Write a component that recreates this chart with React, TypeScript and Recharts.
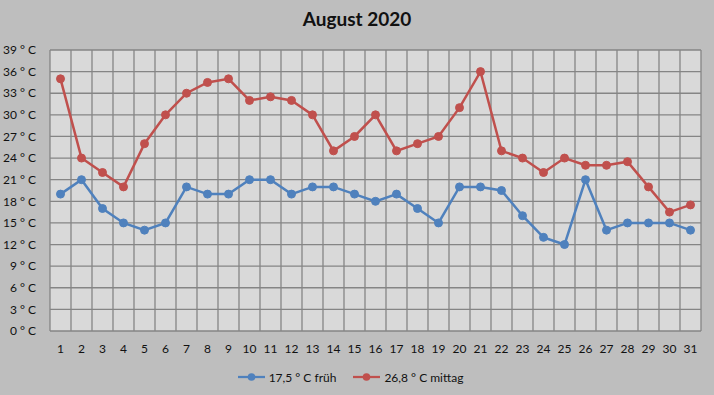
import { LineChart, Line, XAxis, YAxis, CartesianGrid, Legend } from 'recharts';

const days = [
  1, 2, 3, 4, 5, 6, 7, 8, 9, 10, 11, 12, 13, 14, 15, 16,
  17, 18, 19, 20, 21, 22, 23, 24, 25, 26, 27, 28, 29, 30, 31,
];

const frueh = [
  19, 21, 17, 15, 14, 15, 20, 19, 19, 21, 21, 19, 20, 20, 19, 18,
  19, 17, 15, 20, 20, 19.5, 16, 13, 12, 21, 14, 15, 15, 15, 14,
];

const mittag = [
  35, 24, 22, 20, 26, 30, 33, 34.5, 35, 32, 32.5, 32, 30, 25, 27, 30,
  25, 26, 27, 31, 36, 25, 24, 22, 24, 23, 23, 23.5, 20, 16.5, 17.5,
];

const yTicks = [0, 3, 6, 9, 12, 15, 18, 21, 24, 27, 30, 33, 36, 39];

const seriesNames = ['17,5 ° C früh', '26,8 ° C mittag'];
const seriesColors = ['#4F81BD', '#C0504D'];

const data = days.map((d, i) => ({ day: d, frueh: frueh[i], mittag: mittag[i] }));

const FONT = 'Lato, "Liberation Sans", sans-serif';

// Gitternetz an den Kategoriegrenzen wie in Excel
const boundaryLines = ({ offset }: any) => {
  const out: number[] = [];
  for (let i = 0; i <= days.length; i++) {
    out.push(offset.left + (i * offset.width) / days.length);
  }
  return out;
};

const LegendContent = () => (
  <div style={{ height: 32, display: 'flex', justifyContent: 'center', alignItems: 'center', gap: 17, fontFamily: FONT, fontSize: 12, color: '#111' }}>
    {seriesNames.map((name, i) => (
      <div key={name} style={{ display: 'flex', alignItems: 'center', gap: 4 }}>
        <svg width={27} height={10}>
          <line x1={0} y1={5} x2={27} y2={5} stroke={seriesColors[i]} strokeWidth={2.25} />
          <circle cx={13.5} cy={5} r={3.8} fill={seriesColors[i]} />
        </svg>
        <span>{name}</span>
      </div>
    ))}
  </div>
);

export default function App() {
  return (
    <div style={{ position: 'absolute', left: 0, top: 0, width: 714, height: 395, background: '#BEBEBE' }}>
      <div style={{ position: 'absolute', top: 7, left: 0, width: 714, textAlign: 'center', fontFamily: FONT, fontWeight: 700, fontSize: 19, color: '#111' }}>
        August 2020
      </div>
      <LineChart width={714} height={395} data={data} margin={{ top: 50, right: 13, left: 0, bottom: 0 }}>
        <CartesianGrid
          stroke="#858585"
          strokeWidth={1.3}
          fill="#D9D9D9"
          fillOpacity={1}
          verticalCoordinatesGenerator={boundaryLines}
        />
        <XAxis
          dataKey="day"
          scale="band"
          height={30}
          axisLine={false}
          tickLine={false}
          tickSize={0}
          tickMargin={13}
          interval={0}
          tick={{ fontSize: 12, fontFamily: FONT, fill: '#111' }}
        />
        <YAxis
          width={50}
          domain={[0, 39]}
          ticks={yTicks}
          interval={0}
          axisLine={false}
          tickLine={false}
          tickSize={0}
          tickMargin={14}
          tickFormatter={(v: number) => `${v} ° C`}
          tick={{ fontSize: 12, fontFamily: FONT, fill: '#111' }}
        />
        <Legend verticalAlign="bottom" height={34} content={<LegendContent />} />
        <Line
          dataKey="frueh"
          name={seriesNames[0]}
          stroke={seriesColors[0]}
          strokeWidth={2.5}
          dot={{ r: 4, fill: seriesColors[0], stroke: seriesColors[0], strokeWidth: 1 }}
          isAnimationActive={false}
        />
        <Line
          dataKey="mittag"
          name={seriesNames[1]}
          stroke={seriesColors[1]}
          strokeWidth={2.5}
          dot={{ r: 4, fill: seriesColors[1], stroke: seriesColors[1], strokeWidth: 1 }}
          isAnimationActive={false}
        />
      </LineChart>
    </div>
  );
}
